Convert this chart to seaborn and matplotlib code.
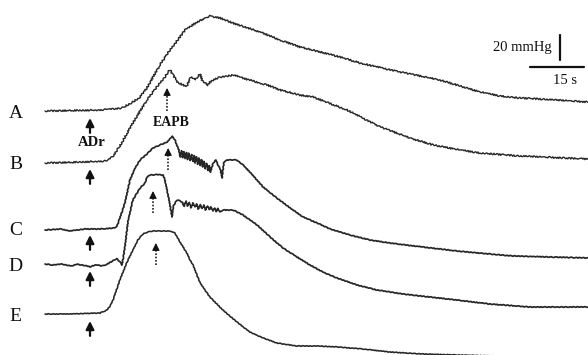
import matplotlib
matplotlib.use("Agg")
import matplotlib.pyplot as plt
import pandas as pd
import seaborn as sns

# Arterial pressure recordings: time (s) and change from baseline (mmHg)
a_time = [0, 6.9, 15.3, 21.4, 24.4, 26.4, 28.3, 31.9, 34.7, 37.5, 38.9, 42.2, 45.8, 48.6,
          52.2, 59.7, 65.3, 70.8, 74.4, 81.9, 87.5, 98.6, 109.7, 120.8, 126.4, 131.9,
          137.5, 150.8]
a_mmhg = [0, 0.4, 0.8, 2.4, 7.2, 11.2, 18.4, 36.8, 48.8, 59.2, 64.8, 71.2, 76.0, 74.4,
          70.4, 63.2, 56.8, 51.2, 48.8, 43.2, 38.4, 31.2, 24.8, 15.2, 12.0, 10.4,
          9.6, 7.2]

b_time = [0, 9.7, 17.2, 18.9, 20.8, 24.4, 28.3, 31.9, 33.3, 34.2, 34.7, 35.6, 36.7, 38.3,
          39.4, 40.3, 40.8, 41.7, 42.5, 43.1, 43.6, 44.4, 45.3, 45.8, 46.7, 48.6, 50.8,
          52.8, 54.7, 56.9, 59.7, 61.7, 65.3, 70.8, 74.4, 83.9, 93.1, 101.4, 107.8,
          115.3, 120.8, 131.9, 150.8]
b_mmhg = [-0.8, 0, 0.8, 4.8, 12.8, 31.2, 49.6, 63.2, 68.0, 72.0, 73.6, 69.6, 64.0, 61.6,
          60.8, 67.2, 68.0, 65.6, 68.8, 70.4, 65.6, 63.2, 61.6, 64.0, 65.6, 68.0, 68.8,
          69.6, 67.2, 65.6, 63.2, 61.6, 57.6, 53.6, 52.0, 41.6, 28.0, 19.2, 13.6,
          9.6, 7.2, 4.8, 2.4]

c_time = [0, 4.2, 6.9, 11.1, 15.3, 19.4, 20.0, 20.8, 22.2, 23.6, 25.0, 26.4, 28.3, 30.0,
          31.9, 33.9, 34.7, 35.3, 36.1, 36.9,
          37.2, 37.55, 37.9, 38.25, 38.6, 38.95, 39.3, 39.65, 40.0, 40.35, 40.7, 41.05,
          41.4, 41.75, 42.1, 42.45, 42.8, 43.15, 43.5, 43.85, 44.2, 44.55, 44.9, 45.25,
          45.6, 45.95,
          46.7, 47.5, 48.1, 48.6, 49.2, 49.7, 50.6, 53.3, 55.0, 56.9, 60.6, 64.4, 68.1,
          71.7, 75.6, 79.2, 84.7, 90.3, 95.8, 105.0, 114.4, 123.6, 130.0, 140.3, 150.8]
c_mmhg = [-1.6, -0.8, -2.4, -0.8, -0.8, 0, 1.6, 8.0, 20.0, 38.4, 48.0, 54.4, 59.2, 64.0,
          66.4, 68.8, 71.2, 73.6, 70.4, 64.0,
          62.4, 56.8, 61.8, 56.2, 61.0, 55.6, 60.4, 54.8, 59.8, 54.0, 58.8, 53.2,
          58.0, 52.0, 57.0, 51.0, 56.0, 50.0, 54.6, 48.8, 53.2, 47.4, 51.6, 46.0,
          50.0, 44.6,
          52.0, 54.4, 49.6, 48.0, 40.0, 52.8, 54.4, 54.4, 50.4, 44.8, 32.8, 24.0, 16.0,
          8.8, 4.0, -0.8, -5.6, -9.6, -12.0, -15.2, -18.4, -20.8, -22.4, -23.2, -24.0]

d_time = [0, 2.2, 4.2, 6.1, 7.5, 8.9, 10.6, 12.5, 14.4, 15.8, 17.2, 18.9, 20.0, 20.6,
          21.4, 22.2, 23.1, 24.4, 26.4, 27.8, 28.3, 29.2, 31.1, 32.8, 33.3, 33.9, 34.7,
          35.3, 35.6, 36.1, 36.7, 37.5,
          38.1, 38.6, 39.1, 39.6, 40.1, 40.6, 41.1, 41.6, 42.1, 42.6, 43.1, 43.6, 44.1,
          44.6, 45.1, 45.6, 46.1, 46.6, 47.1, 47.6, 48.1, 48.6, 49.4,
          51.4, 52.2, 55.0, 58.9, 62.5, 66.1, 70.0, 73.6, 77.2, 81.1, 86.7, 92.2, 99.4,
          106.9, 114.4, 123.6, 134.7, 150.8]
d_mmhg = [0, -0.8, 0, -1.0, -1.6, -0.2, -1.0, -2.2, -0.6, -1.6, -0.2, 2.6, 4.2, 2.4,
          -0.8, 13.6, 35.2, 51.2, 60.8, 64.8, 69.6, 71.2, 71.6, 71.2, 67.2, 59.2, 47.2,
          37.6, 45.6, 48.8, 51.2, 50.4,
          49.6, 46.0, 50.4, 46.4, 49.2, 45.0, 48.8, 45.6, 48.0, 44.0, 47.6, 44.4, 47.2,
          43.2, 46.4, 43.6, 45.6, 42.4, 44.8, 42.0, 44.4, 41.6, 43.2,
          43.2, 43.2, 39.2, 31.2, 21.6, 12.8, 5.6, -0.8, -6.4, -11.2, -16.8, -20.8, -24.0,
          -26.4, -28.8, -32.0, -34.4, -34.4]

e_time = [0, 6.9, 15.3, 17.2, 18.1, 18.9, 20.8, 22.8, 24.4, 25.8, 27.2, 28.6, 30.0, 31.9,
          34.7, 36.1, 36.7, 37.5, 39.4, 40.3, 41.1, 42.2, 43.1, 45.8, 49.4, 53.3, 56.9,
          60.6, 64.4, 70.0, 75.6, 81.1, 88.3, 95.8, 105.0, 114.4, 130.0, 150.8]
e_mmhg = [0, 0, 0.8, 3.2, 6.4, 11.2, 27.2, 41.6, 51.2, 59.2, 64.0, 65.6, 66.4, 66.4,
          66.4, 64.8, 61.6, 57.6, 48.8, 43.2, 39.2, 31.2, 24.8, 13.6, 3.2, -6.4, -14.4,
          -19.2, -23.2, -25.6, -25.6, -26.4, -28.0, -30.4, -32.0, -32.8, -34.0, -35.2]

trace_names = ["A", "B", "C", "D", "E"]
scale_seconds = 15
scale_mmhg = 20

series = {
    "A": (a_time, a_mmhg),
    "B": (b_time, b_mmhg),
    "C": (c_time, c_mmhg),
    "D": (d_time, d_mmhg),
    "E": (e_time, e_mmhg),
}
# vertical stacking of the traces on the page (mmHg units)
offsets = {"A": 0.0, "B": -40.8, "C": -93.6, "D": -122.4, "E": -162.4}
widths = {"A": 1.0, "B": 1.0, "C": 1.25, "D": 1.25, "E": 1.15}
ripple = {"A": (0.8, 3.0, 2.0), "B": (0.8, 3.0, 2.0), "C": (0.35, 4.0, 2.0),
          "D": (0.35, 4.0, 2.0), "E": (0.3, 4.0, 2.0)}

sns.set_theme(style="white")
plt.rcParams["font.family"] = ["Liberation Serif", "DejaVu Serif"]

fig = plt.figure(figsize=(5.88, 3.55), dpi=100)
ax = fig.add_axes([0, 0, 1, 1])
ink = "#262626"

for name in trace_names:
    t, p = series[name]
    df = pd.DataFrame({"time": t, "pressure": [v + offsets[name] for v in p]})
    sns.lineplot(data=df, x="time", y="pressure", ax=ax, sort=False, estimator=None,
                 color=ink, linewidth=widths[name])
    ax.lines[-1].set_sketch_params(*ripple[name])
    ax.text(-8.1, offsets[name] - 2.2, name, fontsize=14, ha="center", va="center",
            color="#111111")

# stimulus markers (solid arrows) under each baseline
for name in trace_names:
    base = offsets[name]
    ax.annotate("", xy=(12.5, base - 5.6), xytext=(12.5, base - 17.5),
                arrowprops=dict(arrowstyle="-|>", color="#111111", lw=1.6,
                                mutation_scale=12, shrinkA=0, shrinkB=0))

# dotted arrows marking the pressor peak
peak_marks = [(33.9, 18.4, 0.4), (34.2, -29.6, -47.2), (30.0, -64.0, -81.6),
              (30.8, -105.6, -123.2)]
for x, tip, tail in peak_marks:
    ax.plot([x, x], [tail, tip - 4.0], color="#222222", lw=1.2, ls=(0, (1, 1)))
    ax.annotate("", xy=(x, tip), xytext=(x, tip - 5.0),
                arrowprops=dict(arrowstyle="-|>", color="#111111", lw=0.8,
                                mutation_scale=11, shrinkA=0, shrinkB=0))

ax.text(13.1, -25.2, "ADr", fontsize=10.5, fontweight="bold", ha="center", va="center",
        color="#111111")
ax.text(35.0, -9.2, "EAPB", fontsize=10, fontweight="bold", ha="center", va="center",
        color="#111111")

# calibration bars
ax.plot([143.1, 143.1], [40.8, 40.8 + scale_mmhg], color="#111111", lw=1.6)
ax.plot([134.7, 134.7 + scale_seconds], [35.2, 35.2], color="#111111", lw=1.6)
ax.text(140.8, 50.4, f"{scale_mmhg} mmHg", fontsize=10.5, ha="right", va="center",
        color="#111111")
ax.text(144.4, 24.8, f"{scale_seconds} s", fontsize=10.5, ha="center", va="center",
        color="#111111")

ax.set_xlim(-12.5, 150.83)
ax.set_ylim(-195.2, 88.8)
ax.set_axis_off()
fig.savefig("out.png", dpi=100, facecolor="white")
